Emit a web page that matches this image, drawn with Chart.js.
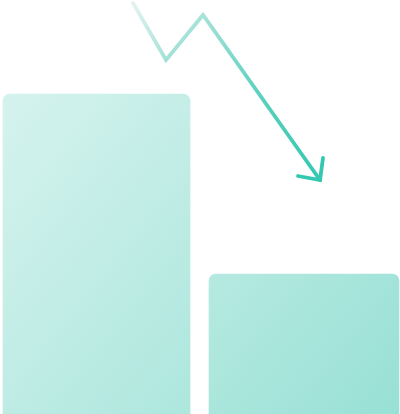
<!DOCTYPE html>
<html>
<head>
<meta charset="utf-8">
<script src="https://cdn.jsdelivr.net/npm/chart.js@4"></script>
<style>
html,body{margin:0;padding:0;background:#fff;}
#wrap{width:400px;height:414px;}
</style>
</head>
<body>
<div id="wrap"><canvas id="c" width="400" height="414"></canvas></div>
<script>
// Data (chart units: x 0..400, y 0..414)
const barCenters = [96.5, 304];
const barWidths = [191, 194];
const barValues = [322, 142];
const trendX = [133, 166, 203, 320];
const trendY = [411, 354, 399, 234];
const arrowX = [298, 320, 323];
const arrowY = [238, 234, 256];

function barGrad(ctx) {
  const ch = ctx.chart;
  const a = ch.chartArea;
  if (!a) return '#bdebe4';
  const g = ch.ctx.createLinearGradient(a.left, a.top + 90, a.right, a.bottom);
  g.addColorStop(0, '#d6f3ee');
  g.addColorStop(0.5, '#b8eae2');
  g.addColorStop(1, '#98e0d5');
  return g;
}
function lineGrad(ctx) {
  const ch = ctx.chart;
  const a = ch.chartArea;
  if (!a) return '#3cc9b4';
  const xs = ch.scales.x, ys = ch.scales.y;
  const g = ch.ctx.createLinearGradient(xs.getPixelForValue(trendX[0]), ys.getPixelForValue(trendY[0]),
    xs.getPixelForValue(trendX[3]), ys.getPixelForValue(trendY[3]));
  g.addColorStop(0, '#e4f3f0');
  g.addColorStop(0.25, '#a2e1d6');
  g.addColorStop(0.6, '#5cd1bf');
  g.addColorStop(1, '#33c7b0');
  return g;
}

const datasets = barCenters.map((c, i) => ({
  type: 'bar',
  data: [{x: c, y: barValues[i]}],
  barThickness: barWidths[i],
  grouped: false,
  backgroundColor: barGrad,
  borderColor: 'rgba(255,255,255,0.35)',
  borderWidth: {top: 2, left: 2, right: 2, bottom: 0},
  borderSkipped: 'bottom',
  borderRadius: {topLeft: 9, topRight: 9, bottomLeft: 0, bottomRight: 0},
  order: 2
}));
datasets.push({
  type: 'line',
  data: trendX.map((x, i) => ({x, y: trendY[i]})),
  borderColor: lineGrad,
  borderWidth: 3.8,
  borderCapStyle: 'round',
  borderJoinStyle: 'miter',
  pointRadius: 0,
  tension: 0,
  fill: false,
  clip: false,
  order: 1
});
datasets.push({
  type: 'line',
  data: arrowX.map((x, i) => ({x, y: arrowY[i]})),
  borderColor: '#35c8b1',
  borderWidth: 3.8,
  borderCapStyle: 'round',
  borderJoinStyle: 'miter',
  pointRadius: 0,
  tension: 0,
  fill: false,
  clip: false,
  order: 1
});

new Chart(document.getElementById('c'), {
  data: {datasets},
  options: {
    responsive: false,
    animation: false,
    layout: {padding: 0},
    plugins: {legend: {display: false}, tooltip: {enabled: false}},
    scales: {
      x: {type: 'linear', min: 0, max: 400, offset: false, display: false},
      y: {type: 'linear', min: 0, max: 414, display: false}
    }
  }
});
</script>
</body>
</html>
